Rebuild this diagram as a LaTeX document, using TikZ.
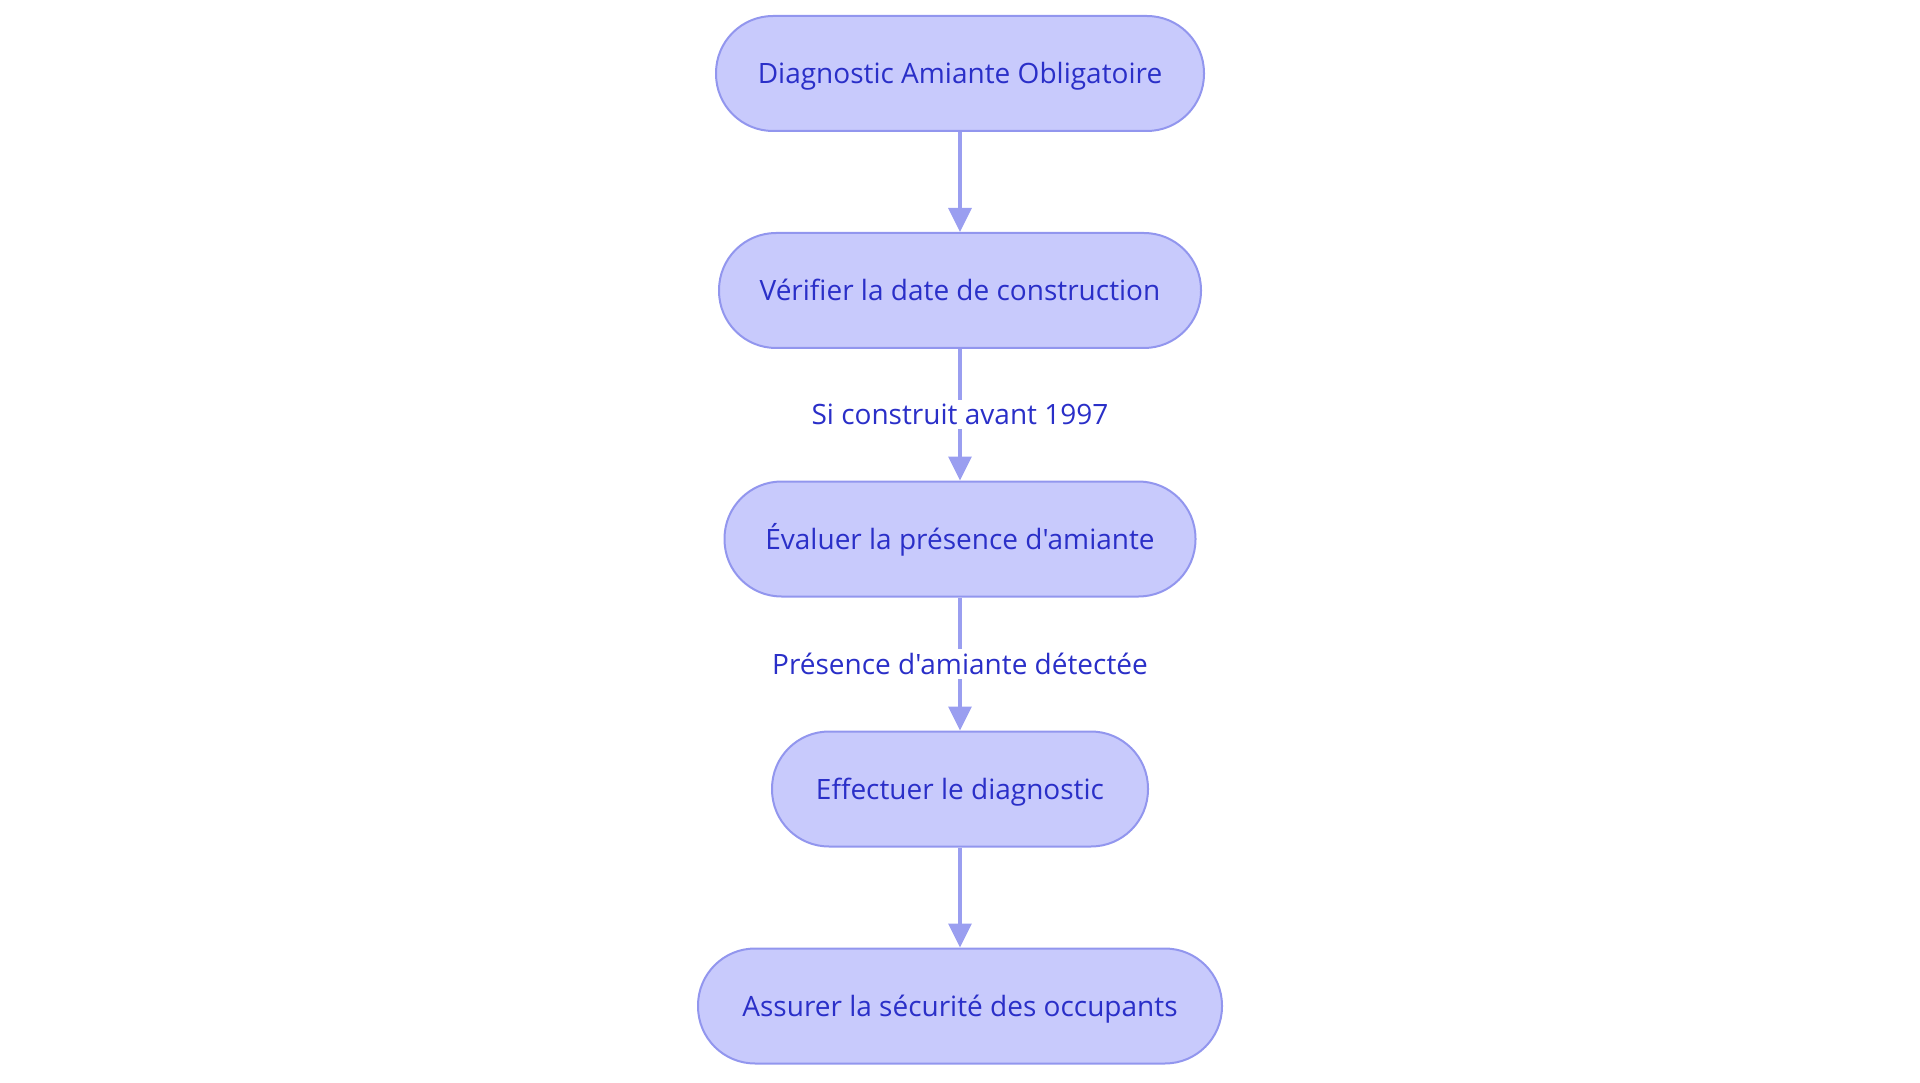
\documentclass[tikz,border=0pt]{standalone}
\usepackage{fontspec}
\setmainfont{Open Sans}[Ligatures=TeXOff]
\usetikzlibrary{arrows.meta,positioning}
\definecolor{nodefill}{HTML}{C8CAFC}
\definecolor{nodeborder}{HTML}{9296EE}
\definecolor{linkcol}{HTML}{9A9EF0}
\definecolor{txtcol}{HTML}{2A2FC8}
\tikzset{
  stadium/.style={draw=nodeborder, fill=nodefill, line width=2pt, rounded corners=57pt,
    minimum height=115pt, text=txtcol, font=\fontsize{28}{34}\selectfont, inner sep=0pt,
    text height=20pt, text depth=0pt},
  link/.style={draw=linkcol, line width=3.5pt, -{Triangle[length=24pt,width=23pt]}, shorten >=0pt},
  lbl/.style={fill=white, text=txtcol, font=\fontsize{28}{34}\selectfont, inner xsep=2pt, inner ysep=4pt}
}
\begin{document}
\begin{tikzpicture}[x=1pt,y=-1pt]
\useasboundingbox (0,0) rectangle (1920,1083);
\node[stadium, minimum width=488pt] (n1) at (960,73.5) {Diagnostic Amiante Obligatoire};
\node[stadium, minimum width=482pt] (n2) at (960,290.5) {Vérifier la date de construction};
\node[stadium, minimum width=471pt] (n3) at (960,539) {Évaluer la présence d'amiante};
\node[stadium, minimum width=376pt] (n4) at (960,789) {Effectuer le diagnostic};
\node[stadium, minimum width=524pt] (n5) at (960,1006) {Assurer la sécurité des occupants};
\draw[link] (n1) -- (n2);
\draw[link] (n2) -- node[lbl] (l1) {Si construit avant 1997} (n3);
\draw[link] (n3) -- node[lbl] (l2) {Présence d'amiante détectée} (n4);
\draw[link] (n4) -- (n5);
\end{tikzpicture}
\end{document}
